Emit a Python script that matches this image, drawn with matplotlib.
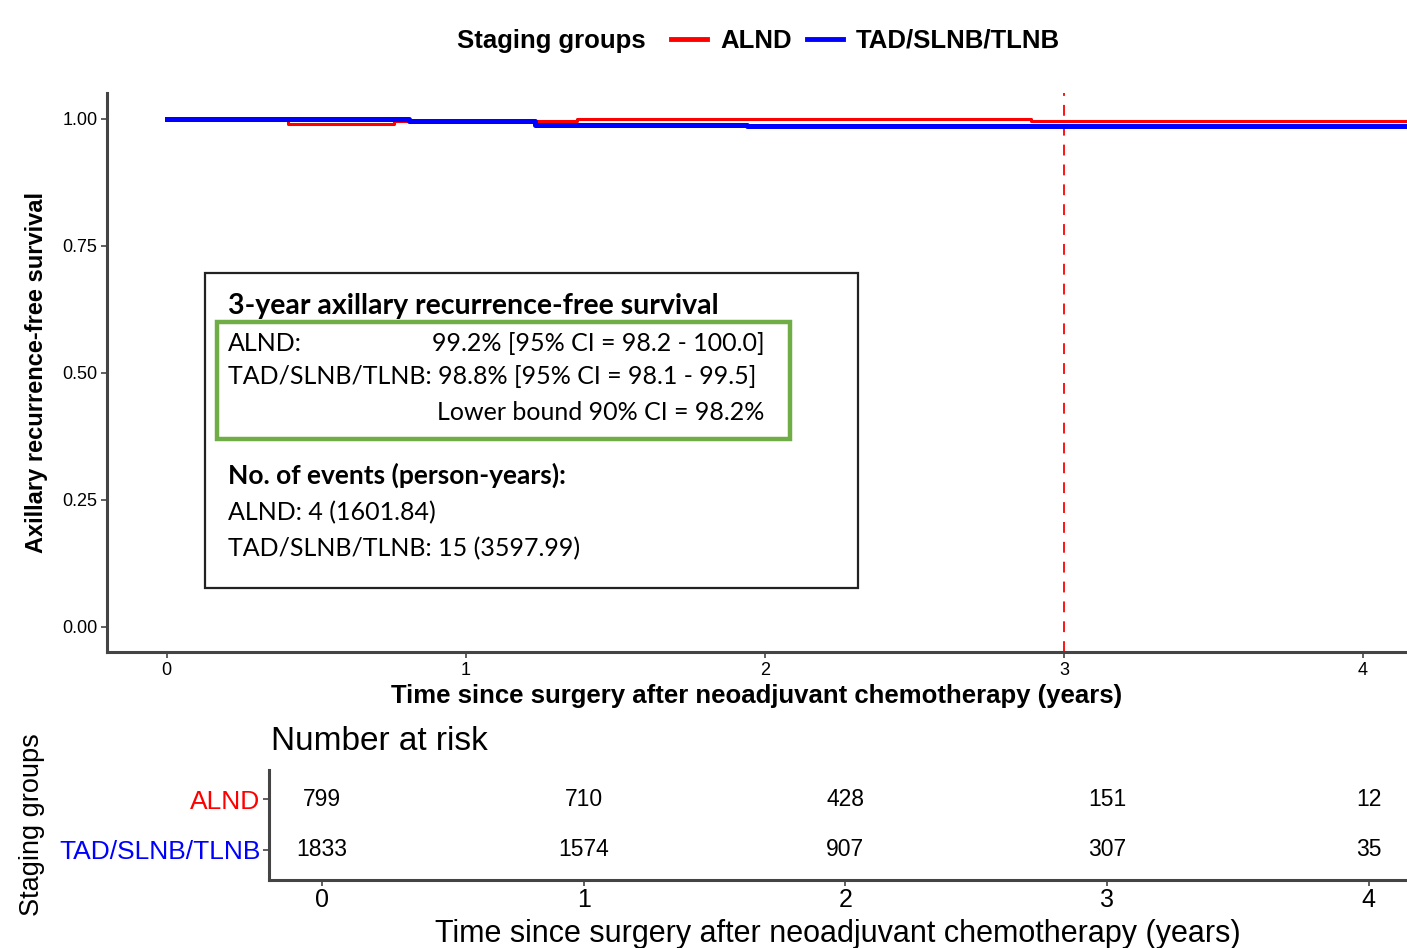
import numpy as np
import matplotlib.pyplot as plt
from matplotlib.patches import Rectangle
from matplotlib.lines import Line2D

# curve steps
alnd_t = [0, 0.405, 0.76, 1.37, 2.89, 4.15]
alnd_s = [1.0, 0.990, 0.9953, 1.0, 0.9953, 0.9953]
tad_t = [0, 0.81, 1.23, 1.94, 4.15]
tad_s = [1.0, 0.9953, 0.9888, 0.9865, 0.9865]

risk_years = [0, 1, 2, 3, 4]
alnd_risk = [799, 710, 428, 151, 12]
tad_risk = [1833, 1574, 907, 307, 35]
groups = ['ALND', 'TAD/SLNB/TLNB']
colors = ['#ff0000', '#0000ff']

W, H = 1407, 948


def fx(px):
    return px / W


def fy(py):
    return 1 - py / H


plt.rcParams['font.family'] = ['Liberation Sans', 'DejaVu Sans']
fig = plt.figure(figsize=(W / 100, H / 100), dpi=100)

# main survival panel
ax = fig.add_axes([fx(107), fy(652), fx(1407) - fx(107), fy(93) - fy(652)])
ax.step(alnd_t, alnd_s, where='post', color=colors[0], lw=2.2, zorder=2)
ax.step(tad_t, tad_s, where='post', color=colors[1], lw=3.6, zorder=3)
ax.axvline(3, color='#ff0000', lw=1.3, ls=(0, (6, 5)), zorder=1)
ax.set_xlim(-0.2, 4.147)
ax.set_ylim(-0.05, 1.051)
ax.set_yticks([0, 0.25, 0.5, 0.75, 1.0])
ax.set_yticklabels(['0.00', '0.25', '0.50', '0.75', '1.00'])
ax.set_xticks(risk_years)
for s in ['top', 'right']:
    ax.spines[s].set_visible(False)
for s in ['left', 'bottom']:
    ax.spines[s].set_linewidth(2.2)
    ax.spines[s].set_color('#444444')
ax.tick_params(length=4, width=1.2, color='#444444', labelsize=13, pad=3)
ax.set_xlabel('Time since surgery after neoadjuvant chemotherapy (years)',
              fontsize=18.5, fontweight='bold', labelpad=4)
ax.set_ylabel('Axillary recurrence-free survival',
              fontsize=17, fontweight='bold', labelpad=10)

# legend on top
fig.text(fx(457), fy(41), 'Staging groups', fontsize=18.5, fontweight='bold',
         ha='left', va='center')
handles = [Line2D([], [], color=c, lw=3.5) for c in colors]
fig.legend(handles, groups, ncol=2, frameon=False,
           loc='center left', bbox_to_anchor=(fx(648), fy(41)),
           prop={'size': 18.5, 'weight': 'bold'},
           handlelength=1.4, handletextpad=0.5, columnspacing=0.6)

# annotation box
fig.patches.append(Rectangle((fx(205), fy(588)), fx(858) - fx(205), fy(273) - fy(588),
                             transform=fig.transFigure, fill=True, fc='white',
                             ec='#222222', lw=1.6, zorder=5))
fig.patches.append(Rectangle((fx(217), fy(439)), fx(790) - fx(217), fy(322) - fy(439),
                             transform=fig.transFigure, fill=False,
                             ec='#70ad47', lw=3.2, zorder=6))
box_font = ['Lato', 'DejaVu Sans']
tkw = dict(family=box_font, va='center', ha='left', zorder=7)
fig.text(fx(228), fy(306), '3-year axillary recurrence-free survival',
         fontsize=20.5, fontweight='bold', **tkw)
fig.text(fx(228), fy(343), 'ALND:', fontsize=18, **tkw)
fig.text(fx(432), fy(343), '99.2% [95% CI = 98.2 - 100.0]', fontsize=18, **tkw)
fig.text(fx(228), fy(377), 'TAD/SLNB/TLNB: 98.8% [95% CI = 98.1 - 99.5]',
         fontsize=18, **tkw)
fig.text(fx(437), fy(412), 'Lower bound 90% CI = 98.2%', fontsize=18, **tkw)
fig.text(fx(228), fy(475), 'No. of events (person-years):', fontsize=19,
         fontweight='bold', **tkw)
fig.text(fx(228), fy(513), 'ALND: 4 (1601.84)', fontsize=18, **tkw)
fig.text(fx(228), fy(549), 'TAD/SLNB/TLNB: 15 (3597.99)', fontsize=18, **tkw)

# number at risk table
rx = fig.add_axes([fx(269), fy(880), fx(1407) - fx(269), fy(770) - fy(880)])
rx.set_xlim(-0.2025, 4.146)
rx.set_ylim(-0.59, 1.57)
for yr, a, b in zip(risk_years, alnd_risk, tad_risk):
    rx.text(yr, 1, str(a), ha='center', va='center', fontsize=16.5)
    rx.text(yr, 0, str(b), ha='center', va='center', fontsize=16.5)
rx.set_yticks([1, 0])
rx.set_yticklabels(groups, fontsize=19)
for lab, c in zip(rx.get_yticklabels(), colors):
    lab.set_color(c)
rx.set_xticks(risk_years)
rx.tick_params(axis='x', labelsize=18, length=4, width=1.2, color='#444444', pad=2)
rx.tick_params(axis='y', length=4, width=1.2, color='#444444', pad=2)
for s in ['top', 'right']:
    rx.spines[s].set_visible(False)
for s in ['left', 'bottom']:
    rx.spines[s].set_linewidth(2.2)
    rx.spines[s].set_color('#444444')
rx.set_xlabel('Time since surgery after neoadjuvant chemotherapy (years)',
              fontsize=22, labelpad=5)
fig.text(fx(271), fy(741), 'Number at risk', fontsize=24, ha='left', va='center')
fig.text(fx(32), fy(825), 'Staging groups', fontsize=19.5, rotation=90,
         ha='center', va='center')

fig.savefig('out.png', dpi=100)
